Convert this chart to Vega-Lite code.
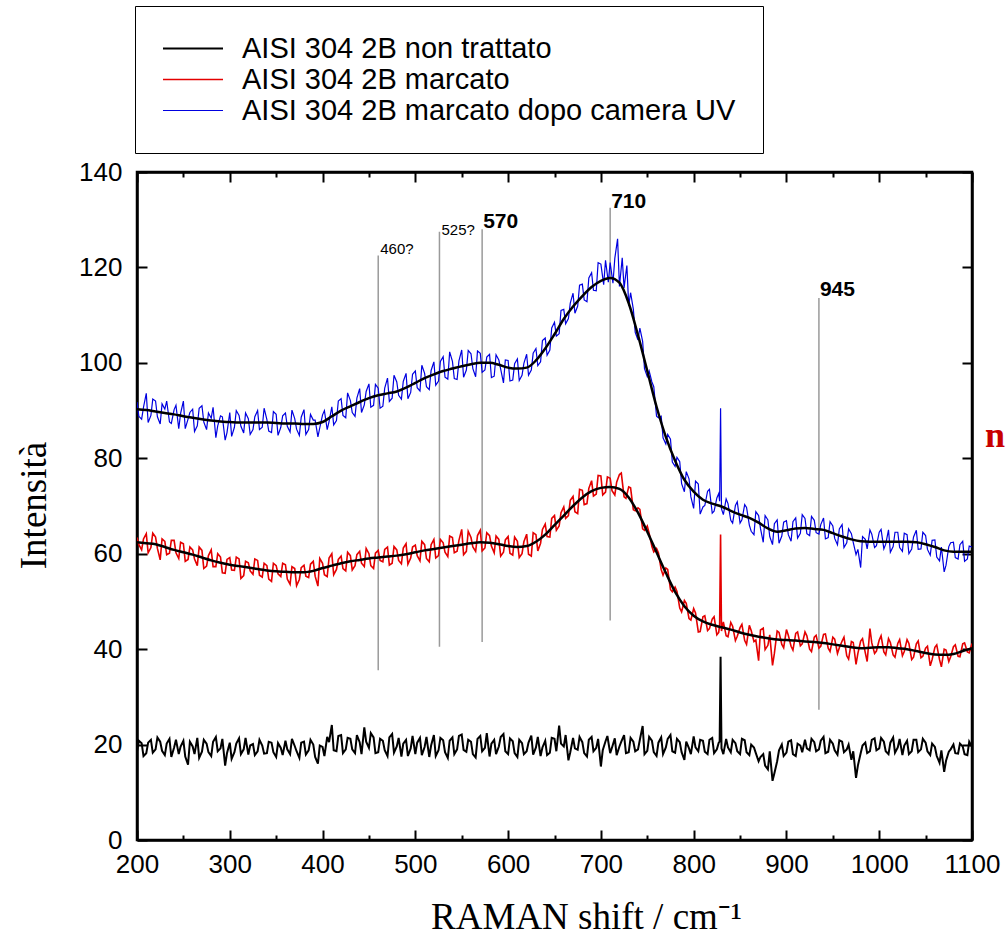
{
"$schema":"https://vega.github.io/schema/vega-lite/v6.json",
"width":835,"height":668,
"autosize":{"type":"none"},
"padding":{"left":137,"top":172,"right":36,"bottom":100},
"background":"white",
"config":{"view":{"stroke":"black","strokeWidth":2.5},"axis":{"grid":false,"domainColor":"black","domainWidth":2.5,"tickColor":"black","tickWidth":2,"labelFont":"Liberation Sans","labelFontSize":26,"labelColor":"black","titleColor":"black","titleFont":"Liberation Serif","titleFontWeight":"normal","titleFontSize":37}},
"datasets":{
"raw":[
{"s":"n","x":200,"y":18.6},{"s":"n","x":205,"y":20.3},{"s":"n","x":210,"y":18.2},{"s":"n","x":215,"y":21.0},{"s":"n","x":220,"y":19.0},{"s":"n","x":225,"y":20.6},{"s":"n","x":230,"y":17.8},{"s":"n","x":235,"y":21.2},{"s":"n","x":240,"y":19.4},{"s":"n","x":245,"y":18.0},{"s":"n","x":250,"y":20.8},{"s":"n","x":255,"y":15.8},{"s":"n","x":260,"y":19.6},{"s":"n","x":265,"y":21.4},{"s":"n","x":270,"y":18.5},{"s":"n","x":275,"y":20.2},{"s":"n","x":280,"y":17.6},{"s":"n","x":285,"y":21.6},{"s":"n","x":290,"y":19.2},{"s":"n","x":295,"y":15.6},{"s":"n","x":300,"y":20.4},{"s":"n","x":305,"y":18.4},{"s":"n","x":310,"y":21.3},{"s":"n","x":315,"y":19.0},{"s":"n","x":320,"y":17.9},{"s":"n","x":325,"y":20.1},{"s":"n","x":330,"y":18.6},{"s":"n","x":335,"y":19.8},{"s":"n","x":340,"y":18.2},{"s":"n","x":345,"y":20.4},{"s":"n","x":350,"y":17.4},{"s":"n","x":355,"y":19.3},{"s":"n","x":360,"y":20.8},{"s":"n","x":365,"y":18.0},{"s":"n","x":370,"y":19.7},{"s":"n","x":375,"y":17.2},{"s":"n","x":380,"y":20.6},{"s":"n","x":385,"y":18.8},{"s":"n","x":390,"y":20.0},{"s":"n","x":395,"y":16.0},{"s":"n","x":400,"y":19.5},{"s":"n","x":405,"y":21.6},{"s":"n","x":410,"y":24.1},{"s":"n","x":415,"y":18.6},{"s":"n","x":420,"y":22.0},{"s":"n","x":425,"y":19.0},{"s":"n","x":430,"y":21.2},{"s":"n","x":435,"y":18.2},{"s":"n","x":440,"y":20.5},{"s":"n","x":445,"y":23.6},{"s":"n","x":450,"y":19.3},{"s":"n","x":455,"y":21.5},{"s":"n","x":460,"y":18.4},{"s":"n","x":465,"y":20.8},{"s":"n","x":470,"y":17.6},{"s":"n","x":475,"y":22.2},{"s":"n","x":480,"y":19.6},{"s":"n","x":485,"y":17.5},{"s":"n","x":490,"y":21.0},{"s":"n","x":495,"y":19.2},{"s":"n","x":500,"y":18.0},{"s":"n","x":505,"y":21.4},{"s":"n","x":510,"y":19.5},{"s":"n","x":515,"y":17.4},{"s":"n","x":520,"y":22.0},{"s":"n","x":525,"y":18.8},{"s":"n","x":530,"y":20.9},{"s":"n","x":535,"y":17.2},{"s":"n","x":540,"y":21.5},{"s":"n","x":545,"y":19.0},{"s":"n","x":550,"y":22.1},{"s":"n","x":555,"y":18.5},{"s":"n","x":560,"y":20.6},{"s":"n","x":565,"y":17.3},{"s":"n","x":570,"y":21.8},{"s":"n","x":575,"y":19.3},{"s":"n","x":580,"y":17.5},{"s":"n","x":585,"y":21.0},{"s":"n","x":590,"y":19.6},{"s":"n","x":595,"y":22.2},{"s":"n","x":600,"y":18.0},{"s":"n","x":605,"y":20.7},{"s":"n","x":610,"y":17.4},{"s":"n","x":615,"y":20.3},{"s":"n","x":620,"y":18.6},{"s":"n","x":625,"y":21.9},{"s":"n","x":630,"y":19.4},{"s":"n","x":635,"y":17.6},{"s":"n","x":640,"y":20.8},{"s":"n","x":645,"y":18.3},{"s":"n","x":650,"y":21.2},{"s":"n","x":655,"y":24.0},{"s":"n","x":660,"y":19.6},{"s":"n","x":665,"y":16.7},{"s":"n","x":670,"y":21.4},{"s":"n","x":675,"y":18.9},{"s":"n","x":680,"y":20.5},{"s":"n","x":685,"y":17.5},{"s":"n","x":690,"y":21.6},{"s":"n","x":695,"y":19.3},{"s":"n","x":700,"y":15.4},{"s":"n","x":705,"y":20.7},{"s":"n","x":710,"y":18.2},{"s":"n","x":715,"y":21.3},{"s":"n","x":720,"y":19.6},{"s":"n","x":725,"y":22.0},{"s":"n","x":730,"y":18.4},{"s":"n","x":735,"y":20.6},{"s":"n","x":740,"y":19.0},{"s":"n","x":745,"y":23.9},{"s":"n","x":750,"y":18.7},{"s":"n","x":755,"y":20.8},{"s":"n","x":760,"y":17.6},{"s":"n","x":765,"y":21.5},{"s":"n","x":770,"y":19.4},{"s":"n","x":775,"y":22.0},{"s":"n","x":780,"y":18.3},{"s":"n","x":785,"y":20.5},{"s":"n","x":790,"y":16.8},{"s":"n","x":795,"y":19.2},{"s":"n","x":800,"y":21.7},{"s":"n","x":805,"y":18.6},{"s":"n","x":810,"y":20.8},{"s":"n","x":815,"y":18.0},{"s":"n","x":820,"y":21.4},{"s":"n","x":825,"y":19.0},{"s":"n","x":828,"y":20.6},{"s":"n","x":829,"y":38.4},{"s":"n","x":830,"y":19.2},{"s":"n","x":835,"y":21.2},{"s":"n","x":840,"y":18.4},{"s":"n","x":845,"y":20.3},{"s":"n","x":850,"y":18.0},{"s":"n","x":855,"y":20.9},{"s":"n","x":860,"y":17.8},{"s":"n","x":865,"y":19.4},{"s":"n","x":870,"y":16.5},{"s":"n","x":875,"y":18.0},{"s":"n","x":880,"y":14.8},{"s":"n","x":885,"y":12.4},{"s":"n","x":890,"y":16.5},{"s":"n","x":895,"y":20.0},{"s":"n","x":900,"y":18.3},{"s":"n","x":905,"y":20.9},{"s":"n","x":910,"y":17.6},{"s":"n","x":915,"y":19.8},{"s":"n","x":920,"y":21.0},{"s":"n","x":925,"y":18.8},{"s":"n","x":930,"y":20.5},{"s":"n","x":935,"y":19.0},{"s":"n","x":940,"y":21.6},{"s":"n","x":945,"y":18.5},{"s":"n","x":950,"y":20.2},{"s":"n","x":955,"y":17.9},{"s":"n","x":960,"y":20.6},{"s":"n","x":965,"y":19.0},{"s":"n","x":970,"y":16.8},{"s":"n","x":975,"y":13.0},{"s":"n","x":980,"y":18.2},{"s":"n","x":985,"y":20.4},{"s":"n","x":990,"y":18.6},{"s":"n","x":995,"y":21.3},{"s":"n","x":1000,"y":19.2},{"s":"n","x":1005,"y":20.6},{"s":"n","x":1010,"y":18.0},{"s":"n","x":1015,"y":21.5},{"s":"n","x":1020,"y":19.4},{"s":"n","x":1025,"y":17.8},{"s":"n","x":1030,"y":20.8},{"s":"n","x":1035,"y":18.6},{"s":"n","x":1040,"y":21.0},{"s":"n","x":1045,"y":19.0},{"s":"n","x":1050,"y":20.4},{"s":"n","x":1055,"y":17.8},{"s":"n","x":1060,"y":19.5},{"s":"n","x":1065,"y":16.2},{"s":"n","x":1070,"y":14.3},{"s":"n","x":1075,"y":18.5},{"s":"n","x":1080,"y":20.0},{"s":"n","x":1085,"y":18.1},{"s":"n","x":1090,"y":19.6},{"s":"n","x":1095,"y":17.8},{"s":"n","x":1100,"y":19.5},
{"s":"n","x":202,"y":20.8},{"s":"n","x":207,"y":17.6},{"s":"n","x":212,"y":20.4},{"s":"n","x":217,"y":18.3},{"s":"n","x":222,"y":21.5},{"s":"n","x":227,"y":18.7},{"s":"n","x":232,"y":20.2},{"s":"n","x":237,"y":17.4},{"s":"n","x":242,"y":21.0},{"s":"n","x":247,"y":19.6},{"s":"n","x":252,"y":17.5},{"s":"n","x":257,"y":20.6},{"s":"n","x":262,"y":18.0},{"s":"n","x":267,"y":17.2},{"s":"n","x":272,"y":21.0},{"s":"n","x":277,"y":18.4},{"s":"n","x":282,"y":20.6},{"s":"n","x":287,"y":18.6},{"s":"n","x":292,"y":21.2},{"s":"n","x":297,"y":18.2},{"s":"n","x":302,"y":17.0},{"s":"n","x":307,"y":20.2},{"s":"n","x":312,"y":18.0},{"s":"n","x":317,"y":21.4},{"s":"n","x":322,"y":19.8},{"s":"n","x":327,"y":17.8},{"s":"n","x":332,"y":21.0},{"s":"n","x":337,"y":18.1},{"s":"n","x":342,"y":20.6},{"s":"n","x":347,"y":18.4},{"s":"n","x":352,"y":20.3},{"s":"n","x":357,"y":17.8},{"s":"n","x":362,"y":19.0},{"s":"n","x":367,"y":21.2},{"s":"n","x":372,"y":18.6},{"s":"n","x":377,"y":20.4},{"s":"n","x":382,"y":17.9},{"s":"n","x":387,"y":21.0},{"s":"n","x":392,"y":17.4},{"s":"n","x":397,"y":19.8},{"s":"n","x":402,"y":17.6},{"s":"n","x":407,"y":20.5},{"s":"n","x":412,"y":18.8},{"s":"n","x":417,"y":21.8},{"s":"n","x":422,"y":18.2},{"s":"n","x":427,"y":21.4},{"s":"n","x":432,"y":19.0},{"s":"n","x":437,"y":22.0},{"s":"n","x":442,"y":18.0},{"s":"n","x":447,"y":20.6},{"s":"n","x":452,"y":22.4},{"s":"n","x":457,"y":18.2},{"s":"n","x":462,"y":21.2},{"s":"n","x":467,"y":18.8},{"s":"n","x":472,"y":21.5},{"s":"n","x":477,"y":18.3},{"s":"n","x":482,"y":21.4},{"s":"n","x":487,"y":20.2},{"s":"n","x":492,"y":17.6},{"s":"n","x":497,"y":21.8},{"s":"n","x":502,"y":20.4},{"s":"n","x":507,"y":17.8},{"s":"n","x":512,"y":21.6},{"s":"n","x":517,"y":19.8},{"s":"n","x":522,"y":17.6},{"s":"n","x":527,"y":21.4},{"s":"n","x":532,"y":18.4},{"s":"n","x":537,"y":20.8},{"s":"n","x":542,"y":18.0},{"s":"n","x":547,"y":21.8},{"s":"n","x":552,"y":18.9},{"s":"n","x":557,"y":21.0},{"s":"n","x":562,"y":18.0},{"s":"n","x":567,"y":21.2},{"s":"n","x":572,"y":18.6},{"s":"n","x":577,"y":22.4},{"s":"n","x":582,"y":20.2},{"s":"n","x":587,"y":18.0},{"s":"n","x":592,"y":21.6},{"s":"n","x":597,"y":18.6},{"s":"n","x":602,"y":21.3},{"s":"n","x":607,"y":18.2},{"s":"n","x":612,"y":21.0},{"s":"n","x":617,"y":18.0},{"s":"n","x":622,"y":20.4},{"s":"n","x":627,"y":17.9},{"s":"n","x":632,"y":21.6},{"s":"n","x":637,"y":19.4},{"s":"n","x":642,"y":17.8},{"s":"n","x":647,"y":21.4},{"s":"n","x":652,"y":18.6},{"s":"n","x":657,"y":20.2},{"s":"n","x":662,"y":22.0},{"s":"n","x":667,"y":18.4},{"s":"n","x":672,"y":19.2},{"s":"n","x":677,"y":21.6},{"s":"n","x":682,"y":18.2},{"s":"n","x":687,"y":21.0},{"s":"n","x":692,"y":18.6},{"s":"n","x":697,"y":21.2},{"s":"n","x":702,"y":18.8},{"s":"n","x":707,"y":21.8},{"s":"n","x":712,"y":19.4},{"s":"n","x":717,"y":17.8},{"s":"n","x":722,"y":20.6},{"s":"n","x":727,"y":18.2},{"s":"n","x":732,"y":21.4},{"s":"n","x":737,"y":18.6},{"s":"n","x":742,"y":21.0},{"s":"n","x":747,"y":18.0},{"s":"n","x":752,"y":21.6},{"s":"n","x":757,"y":18.4},{"s":"n","x":762,"y":20.4},{"s":"n","x":767,"y":18.0},{"s":"n","x":772,"y":21.2},{"s":"n","x":777,"y":18.6},{"s":"n","x":782,"y":21.2},{"s":"n","x":787,"y":18.4},{"s":"n","x":792,"y":20.6},{"s":"n","x":797,"y":18.0},{"s":"n","x":802,"y":19.4},{"s":"n","x":807,"y":21.0},{"s":"n","x":812,"y":18.5},{"s":"n","x":817,"y":21.0},{"s":"n","x":822,"y":18.2},{"s":"n","x":827,"y":20.4},{"s":"n","x":832,"y":18.0},{"s":"n","x":837,"y":19.4},{"s":"n","x":842,"y":21.0},{"s":"n","x":847,"y":18.6},{"s":"n","x":852,"y":21.2},{"s":"n","x":857,"y":18.4},{"s":"n","x":862,"y":20.0},{"s":"n","x":867,"y":18.2},{"s":"n","x":872,"y":17.4},{"s":"n","x":877,"y":15.6},{"s":"n","x":882,"y":18.6},{"s":"n","x":887,"y":14.0},{"s":"n","x":892,"y":18.8},{"s":"n","x":897,"y":17.6},{"s":"n","x":902,"y":20.6},{"s":"n","x":907,"y":18.0},{"s":"n","x":912,"y":20.2},{"s":"n","x":917,"y":18.4},{"s":"n","x":922,"y":19.2},{"s":"n","x":927,"y":21.2},{"s":"n","x":932,"y":18.6},{"s":"n","x":937,"y":20.8},{"s":"n","x":942,"y":18.2},{"s":"n","x":947,"y":21.0},{"s":"n","x":952,"y":18.8},{"s":"n","x":957,"y":20.9},{"s":"n","x":962,"y":18.4},{"s":"n","x":967,"y":20.0},{"s":"n","x":972,"y":18.6},{"s":"n","x":977,"y":15.6},{"s":"n","x":982,"y":19.8},{"s":"n","x":987,"y":18.2},{"s":"n","x":992,"y":21.0},{"s":"n","x":997,"y":18.8},{"s":"n","x":1002,"y":21.4},{"s":"n","x":1007,"y":18.6},{"s":"n","x":1012,"y":20.4},{"s":"n","x":1017,"y":18.3},{"s":"n","x":1022,"y":21.2},{"s":"n","x":1027,"y":19.8},{"s":"n","x":1032,"y":18.0},{"s":"n","x":1037,"y":21.0},{"s":"n","x":1042,"y":18.4},{"s":"n","x":1047,"y":21.2},{"s":"n","x":1052,"y":18.6},{"s":"n","x":1057,"y":20.2},{"s":"n","x":1062,"y":17.6},{"s":"n","x":1067,"y":18.8},{"s":"n","x":1072,"y":16.6},{"s":"n","x":1077,"y":19.0},{"s":"n","x":1082,"y":18.2},{"s":"n","x":1087,"y":20.2},{"s":"n","x":1092,"y":18.0},{"s":"n","x":1097,"y":20.6},
{"s":"m","x":200,"y":63.4},{"s":"m","x":205,"y":60.8},{"s":"m","x":210,"y":64.2},{"s":"m","x":215,"y":61.3},{"s":"m","x":220,"y":63.5},{"s":"m","x":225,"y":58.7},{"s":"m","x":230,"y":62.6},{"s":"m","x":235,"y":60.1},{"s":"m","x":240,"y":62.8},{"s":"m","x":245,"y":59.0},{"s":"m","x":250,"y":62.1},{"s":"m","x":255,"y":58.8},{"s":"m","x":260,"y":60.8},{"s":"m","x":265,"y":57.5},{"s":"m","x":270,"y":60.7},{"s":"m","x":275,"y":57.4},{"s":"m","x":280,"y":60.8},{"s":"m","x":285,"y":57.3},{"s":"m","x":290,"y":59.3},{"s":"m","x":295,"y":55.9},{"s":"m","x":300,"y":59.2},{"s":"m","x":305,"y":56.5},{"s":"m","x":310,"y":58.9},{"s":"m","x":315,"y":55.4},{"s":"m","x":320,"y":58.1},{"s":"m","x":325,"y":55.7},{"s":"m","x":330,"y":58.6},{"s":"m","x":335,"y":55.1},{"s":"m","x":340,"y":57.5},{"s":"m","x":345,"y":54.2},{"s":"m","x":350,"y":57.5},{"s":"m","x":355,"y":55.2},{"s":"m","x":360,"y":57.7},{"s":"m","x":365,"y":53.6},{"s":"m","x":370,"y":56.9},{"s":"m","x":375,"y":54.6},{"s":"m","x":380,"y":57.6},{"s":"m","x":385,"y":55.0},{"s":"m","x":390,"y":58.4},{"s":"m","x":395,"y":53.2},{"s":"m","x":400,"y":58.0},{"s":"m","x":405,"y":55.2},{"s":"m","x":410,"y":60.0},{"s":"m","x":415,"y":56.7},{"s":"m","x":420,"y":59.5},{"s":"m","x":425,"y":56.4},{"s":"m","x":430,"y":59.6},{"s":"m","x":435,"y":57.5},{"s":"m","x":440,"y":60.5},{"s":"m","x":445,"y":57.3},{"s":"m","x":450,"y":60.0},{"s":"m","x":455,"y":56.9},{"s":"m","x":460,"y":60.7},{"s":"m","x":465,"y":58.3},{"s":"m","x":470,"y":61.4},{"s":"m","x":475,"y":58.0},{"s":"m","x":480,"y":60.8},{"s":"m","x":485,"y":57.9},{"s":"m","x":490,"y":62.1},{"s":"m","x":495,"y":59.1},{"s":"m","x":500,"y":61.8},{"s":"m","x":505,"y":58.5},{"s":"m","x":510,"y":61.9},{"s":"m","x":515,"y":58.3},{"s":"m","x":520,"y":63.0},{"s":"m","x":525,"y":59.6},{"s":"m","x":530,"y":62.3},{"s":"m","x":535,"y":59.4},{"s":"m","x":540,"y":63.4},{"s":"m","x":545,"y":60.5},{"s":"m","x":550,"y":65.1},{"s":"m","x":555,"y":60.5},{"s":"m","x":560,"y":63.4},{"s":"m","x":565,"y":60.5},{"s":"m","x":570,"y":64.9},{"s":"m","x":575,"y":61.2},{"s":"m","x":580,"y":63.8},{"s":"m","x":585,"y":60.2},{"s":"m","x":590,"y":63.0},{"s":"m","x":595,"y":60.3},{"s":"m","x":600,"y":63.6},{"s":"m","x":605,"y":59.7},{"s":"m","x":610,"y":62.6},{"s":"m","x":615,"y":60.0},{"s":"m","x":620,"y":64.1},{"s":"m","x":625,"y":59.5},{"s":"m","x":630,"y":64.0},{"s":"m","x":635,"y":62.2},{"s":"m","x":640,"y":66.2},{"s":"m","x":645,"y":63.5},{"s":"m","x":650,"y":68.0},{"s":"m","x":655,"y":65.8},{"s":"m","x":660,"y":69.8},{"s":"m","x":665,"y":68.0},{"s":"m","x":670,"y":72.0},{"s":"m","x":675,"y":68.4},{"s":"m","x":680,"y":73.3},{"s":"m","x":685,"y":70.5},{"s":"m","x":690,"y":75.3},{"s":"m","x":695,"y":72.5},{"s":"m","x":700,"y":76.3},{"s":"m","x":705,"y":72.9},{"s":"m","x":710,"y":75.8},{"s":"m","x":715,"y":72.3},{"s":"m","x":720,"y":76.6},{"s":"m","x":725,"y":71.9},{"s":"m","x":730,"y":74.0},{"s":"m","x":735,"y":69.2},{"s":"m","x":740,"y":69.6},{"s":"m","x":745,"y":65.2},{"s":"m","x":750,"y":65.8},{"s":"m","x":755,"y":61.5},{"s":"m","x":760,"y":61.1},{"s":"m","x":765,"y":56.7},{"s":"m","x":770,"y":57.0},{"s":"m","x":775,"y":52.5},{"s":"m","x":780,"y":53.0},{"s":"m","x":785,"y":48.6},{"s":"m","x":790,"y":50.2},{"s":"m","x":795,"y":46.4},{"s":"m","x":800,"y":48.5},{"s":"m","x":805,"y":43.6},{"s":"m","x":810,"y":46.8},{"s":"m","x":815,"y":43.9},{"s":"m","x":820,"y":46.3},{"s":"m","x":825,"y":43.0},{"s":"m","x":828,"y":45.2},{"s":"m","x":829,"y":64.0},{"s":"m","x":830,"y":43.8},{"s":"m","x":835,"y":42.8},{"s":"m","x":840,"y":45.6},{"s":"m","x":845,"y":41.8},{"s":"m","x":850,"y":44.5},{"s":"m","x":855,"y":41.8},{"s":"m","x":860,"y":45.0},{"s":"m","x":865,"y":41.6},{"s":"m","x":870,"y":37.6},{"s":"m","x":875,"y":44.4},{"s":"m","x":880,"y":40.8},{"s":"m","x":885,"y":36.6},{"s":"m","x":890,"y":43.8},{"s":"m","x":895,"y":41.0},{"s":"m","x":900,"y":44.1},{"s":"m","x":905,"y":40.6},{"s":"m","x":910,"y":43.3},{"s":"m","x":915,"y":40.7},{"s":"m","x":920,"y":43.6},{"s":"m","x":925,"y":40.0},{"s":"m","x":930,"y":42.5},{"s":"m","x":935,"y":40.2},{"s":"m","x":940,"y":43.1},{"s":"m","x":945,"y":40.2},{"s":"m","x":950,"y":42.5},{"s":"m","x":955,"y":39.1},{"s":"m","x":960,"y":41.7},{"s":"m","x":965,"y":38.6},{"s":"m","x":970,"y":41.6},{"s":"m","x":975,"y":36.8},{"s":"m","x":980,"y":41.7},{"s":"m","x":985,"y":39.2},{"s":"m","x":990,"y":44.3},{"s":"m","x":995,"y":39.1},{"s":"m","x":1000,"y":41.9},{"s":"m","x":1005,"y":39.4},{"s":"m","x":1010,"y":42.2},{"s":"m","x":1015,"y":38.8},{"s":"m","x":1020,"y":41.2},{"s":"m","x":1025,"y":38.6},{"s":"m","x":1030,"y":42.0},{"s":"m","x":1035,"y":37.8},{"s":"m","x":1040,"y":41.1},{"s":"m","x":1045,"y":38.2},{"s":"m","x":1050,"y":40.2},{"s":"m","x":1055,"y":36.5},{"s":"m","x":1060,"y":40.4},{"s":"m","x":1065,"y":37.8},{"s":"m","x":1070,"y":40.0},{"s":"m","x":1075,"y":37.4},{"s":"m","x":1080,"y":40.5},{"s":"m","x":1085,"y":38.5},{"s":"m","x":1090,"y":41.1},{"s":"m","x":1095,"y":39.4},{"s":"m","x":1100,"y":41.2},
{"s":"m","x":202,"y":61.9},{"s":"m","x":207,"y":63.1},{"s":"m","x":212,"y":60.2},{"s":"m","x":217,"y":64.3},{"s":"m","x":222,"y":61.1},{"s":"m","x":227,"y":63.1},{"s":"m","x":232,"y":59.8},{"s":"m","x":237,"y":62.8},{"s":"m","x":242,"y":60.2},{"s":"m","x":247,"y":62.4},{"s":"m","x":252,"y":58.4},{"s":"m","x":257,"y":61.4},{"s":"m","x":262,"y":58.9},{"s":"m","x":267,"y":61.4},{"s":"m","x":272,"y":56.9},{"s":"m","x":277,"y":59.6},{"s":"m","x":282,"y":57.3},{"s":"m","x":287,"y":60.0},{"s":"m","x":292,"y":56.0},{"s":"m","x":297,"y":58.8},{"s":"m","x":302,"y":56.6},{"s":"m","x":307,"y":59.3},{"s":"m","x":312,"y":54.8},{"s":"m","x":317,"y":58.4},{"s":"m","x":322,"y":56.4},{"s":"m","x":327,"y":58.9},{"s":"m","x":332,"y":55.5},{"s":"m","x":337,"y":58.0},{"s":"m","x":342,"y":54.7},{"s":"m","x":347,"y":58.0},{"s":"m","x":352,"y":55.8},{"s":"m","x":357,"y":58.0},{"s":"m","x":362,"y":54.7},{"s":"m","x":367,"y":57.3},{"s":"m","x":372,"y":53.3},{"s":"m","x":377,"y":57.1},{"s":"m","x":382,"y":55.3},{"s":"m","x":387,"y":57.8},{"s":"m","x":392,"y":55.3},{"s":"m","x":397,"y":59.0},{"s":"m","x":402,"y":55.6},{"s":"m","x":407,"y":59.1},{"s":"m","x":412,"y":55.6},{"s":"m","x":417,"y":58.8},{"s":"m","x":422,"y":56.9},{"s":"m","x":427,"y":60.3},{"s":"m","x":432,"y":56.6},{"s":"m","x":437,"y":59.8},{"s":"m","x":442,"y":58.0},{"s":"m","x":447,"y":61.1},{"s":"m","x":452,"y":57.5},{"s":"m","x":457,"y":60.1},{"s":"m","x":462,"y":58.6},{"s":"m","x":467,"y":60.9},{"s":"m","x":472,"y":57.6},{"s":"m","x":477,"y":61.5},{"s":"m","x":482,"y":58.6},{"s":"m","x":487,"y":61.2},{"s":"m","x":492,"y":57.8},{"s":"m","x":497,"y":61.4},{"s":"m","x":502,"y":59.6},{"s":"m","x":507,"y":62.6},{"s":"m","x":512,"y":59.0},{"s":"m","x":517,"y":61.9},{"s":"m","x":522,"y":59.1},{"s":"m","x":527,"y":63.0},{"s":"m","x":532,"y":60.3},{"s":"m","x":537,"y":63.7},{"s":"m","x":542,"y":60.2},{"s":"m","x":547,"y":62.8},{"s":"m","x":552,"y":59.8},{"s":"m","x":557,"y":64.7},{"s":"m","x":562,"y":61.4},{"s":"m","x":567,"y":63.8},{"s":"m","x":572,"y":60.6},{"s":"m","x":577,"y":64.4},{"s":"m","x":582,"y":61.6},{"s":"m","x":587,"y":63.7},{"s":"m","x":592,"y":59.5},{"s":"m","x":597,"y":62.9},{"s":"m","x":602,"y":60.1},{"s":"m","x":607,"y":63.5},{"s":"m","x":612,"y":59.2},{"s":"m","x":617,"y":62.5},{"s":"m","x":622,"y":59.9},{"s":"m","x":627,"y":64.4},{"s":"m","x":632,"y":60.6},{"s":"m","x":637,"y":65.1},{"s":"m","x":642,"y":63.6},{"s":"m","x":647,"y":67.4},{"s":"m","x":652,"y":64.9},{"s":"m","x":657,"y":68.6},{"s":"m","x":662,"y":67.4},{"s":"m","x":667,"y":71.2},{"s":"m","x":672,"y":68.8},{"s":"m","x":677,"y":73.5},{"s":"m","x":682,"y":70.3},{"s":"m","x":687,"y":73.7},{"s":"m","x":692,"y":72.1},{"s":"m","x":697,"y":76.4},{"s":"m","x":702,"y":72.3},{"s":"m","x":707,"y":76.1},{"s":"m","x":712,"y":73.2},{"s":"m","x":717,"y":75.0},{"s":"m","x":722,"y":76.9},{"s":"m","x":727,"y":71.6},{"s":"m","x":732,"y":73.8},{"s":"m","x":737,"y":69.0},{"s":"m","x":742,"y":69.3},{"s":"m","x":747,"y":64.9},{"s":"m","x":752,"y":64.3},{"s":"m","x":757,"y":60.4},{"s":"m","x":762,"y":60.2},{"s":"m","x":767,"y":55.5},{"s":"m","x":772,"y":56.7},{"s":"m","x":777,"y":52.0},{"s":"m","x":782,"y":52.1},{"s":"m","x":787,"y":47.8},{"s":"m","x":792,"y":49.6},{"s":"m","x":797,"y":46.1},{"s":"m","x":802,"y":47.6},{"s":"m","x":807,"y":43.7},{"s":"m","x":812,"y":47.0},{"s":"m","x":817,"y":44.3},{"s":"m","x":822,"y":46.8},{"s":"m","x":827,"y":43.5},{"s":"m","x":832,"y":45.7},{"s":"m","x":837,"y":42.6},{"s":"m","x":842,"y":44.8},{"s":"m","x":847,"y":42.7},{"s":"m","x":852,"y":45.2},{"s":"m","x":857,"y":41.0},{"s":"m","x":862,"y":43.9},{"s":"m","x":867,"y":41.9},{"s":"m","x":872,"y":44.0},{"s":"m","x":877,"y":39.9},{"s":"m","x":882,"y":43.0},{"s":"m","x":887,"y":39.1},{"s":"m","x":892,"y":43.5},{"s":"m","x":897,"y":40.3},{"s":"m","x":902,"y":42.9},{"s":"m","x":907,"y":39.8},{"s":"m","x":912,"y":43.6},{"s":"m","x":917,"y":41.1},{"s":"m","x":922,"y":42.8},{"s":"m","x":927,"y":39.5},{"s":"m","x":932,"y":42.9},{"s":"m","x":937,"y":40.6},{"s":"m","x":942,"y":43.2},{"s":"m","x":947,"y":39.5},{"s":"m","x":952,"y":42.1},{"s":"m","x":957,"y":40.3},{"s":"m","x":962,"y":42.5},{"s":"m","x":967,"y":37.9},{"s":"m","x":972,"y":41.4},{"s":"m","x":977,"y":39.1},{"s":"m","x":982,"y":42.2},{"s":"m","x":987,"y":37.4},{"s":"m","x":992,"y":41.3},{"s":"m","x":997,"y":39.6},{"s":"m","x":1002,"y":42.8},{"s":"m","x":1007,"y":38.8},{"s":"m","x":1012,"y":41.4},{"s":"m","x":1017,"y":38.3},{"s":"m","x":1022,"y":42.0},{"s":"m","x":1027,"y":39.5},{"s":"m","x":1032,"y":41.2},{"s":"m","x":1037,"y":38.3},{"s":"m","x":1042,"y":41.7},{"s":"m","x":1047,"y":38.5},{"s":"m","x":1052,"y":40.6},{"s":"m","x":1057,"y":37.8},{"s":"m","x":1062,"y":40.9},{"s":"m","x":1067,"y":36.3},{"s":"m","x":1072,"y":39.8},{"s":"m","x":1077,"y":38.4},{"s":"m","x":1082,"y":40.9},{"s":"m","x":1087,"y":38.4},{"s":"m","x":1092,"y":41.3},{"s":"m","x":1097,"y":39.2},
{"s":"u","x":200,"y":91.8},{"s":"u","x":205,"y":88.2},{"s":"u","x":210,"y":93.6},{"s":"u","x":215,"y":89.0},{"s":"u","x":220,"y":92.0},{"s":"u","x":225,"y":87.2},{"s":"u","x":230,"y":90.3},{"s":"u","x":235,"y":87.6},{"s":"u","x":240,"y":90.2},{"s":"u","x":245,"y":86.2},{"s":"u","x":250,"y":92.0},{"s":"u","x":255,"y":88.2},{"s":"u","x":260,"y":90.3},{"s":"u","x":265,"y":86.8},{"s":"u","x":270,"y":91.0},{"s":"u","x":275,"y":86.0},{"s":"u","x":280,"y":88.4},{"s":"u","x":285,"y":84.3},{"s":"u","x":290,"y":88.9},{"s":"u","x":295,"y":83.8},{"s":"u","x":300,"y":89.6},{"s":"u","x":305,"y":86.5},{"s":"u","x":310,"y":89.0},{"s":"u","x":315,"y":85.3},{"s":"u","x":320,"y":88.3},{"s":"u","x":325,"y":86.0},{"s":"u","x":330,"y":90.0},{"s":"u","x":335,"y":86.5},{"s":"u","x":340,"y":88.1},{"s":"u","x":345,"y":85.4},{"s":"u","x":350,"y":89.2},{"s":"u","x":355,"y":86.5},{"s":"u","x":360,"y":89.5},{"s":"u","x":365,"y":85.5},{"s":"u","x":370,"y":88.3},{"s":"u","x":375,"y":84.8},{"s":"u","x":380,"y":90.2},{"s":"u","x":385,"y":86.0},{"s":"u","x":390,"y":88.0},{"s":"u","x":395,"y":84.5},{"s":"u","x":400,"y":89.1},{"s":"u","x":405,"y":86.0},{"s":"u","x":410,"y":90.8},{"s":"u","x":415,"y":87.9},{"s":"u","x":420,"y":92.5},{"s":"u","x":425,"y":88.5},{"s":"u","x":430,"y":92.1},{"s":"u","x":435,"y":88.8},{"s":"u","x":440,"y":94.6},{"s":"u","x":445,"y":91.2},{"s":"u","x":450,"y":95.6},{"s":"u","x":455,"y":91.1},{"s":"u","x":460,"y":94.7},{"s":"u","x":465,"y":90.9},{"s":"u","x":470,"y":96.8},{"s":"u","x":475,"y":92.6},{"s":"u","x":480,"y":96.0},{"s":"u","x":485,"y":92.4},{"s":"u","x":490,"y":97.8},{"s":"u","x":495,"y":93.8},{"s":"u","x":500,"y":98.3},{"s":"u","x":505,"y":94.1},{"s":"u","x":510,"y":97.8},{"s":"u","x":515,"y":94.4},{"s":"u","x":520,"y":100.2},{"s":"u","x":525,"y":96.2},{"s":"u","x":530,"y":101.3},{"s":"u","x":535,"y":96.6},{"s":"u","x":540,"y":100.3},{"s":"u","x":545,"y":96.5},{"s":"u","x":550,"y":102.7},{"s":"u","x":555,"y":98.5},{"s":"u","x":560,"y":101.9},{"s":"u","x":565,"y":97.1},{"s":"u","x":570,"y":102.0},{"s":"u","x":575,"y":98.5},{"s":"u","x":580,"y":101.8},{"s":"u","x":585,"y":97.2},{"s":"u","x":590,"y":100.6},{"s":"u","x":595,"y":95.8},{"s":"u","x":600,"y":100.5},{"s":"u","x":605,"y":96.4},{"s":"u","x":610,"y":100.8},{"s":"u","x":615,"y":97.4},{"s":"u","x":620,"y":101.8},{"s":"u","x":625,"y":98.5},{"s":"u","x":630,"y":103.0},{"s":"u","x":635,"y":100.2},{"s":"u","x":640,"y":105.2},{"s":"u","x":645,"y":102.7},{"s":"u","x":650,"y":108.5},{"s":"u","x":655,"y":106.1},{"s":"u","x":660,"y":111.2},{"s":"u","x":665,"y":109.3},{"s":"u","x":670,"y":114.6},{"s":"u","x":675,"y":111.9},{"s":"u","x":680,"y":116.5},{"s":"u","x":685,"y":112.8},{"s":"u","x":690,"y":118.9},{"s":"u","x":695,"y":115.1},{"s":"u","x":700,"y":120.7},{"s":"u","x":703,"y":116.4},{"s":"u","x":705,"y":121.5},{"s":"u","x":708,"y":116.9},{"s":"u","x":710,"y":121.0},{"s":"u","x":713,"y":116.7},{"s":"u","x":715,"y":121.9},{"s":"u","x":718,"y":126.0},{"s":"u","x":720,"y":116.0},{"s":"u","x":723,"y":122.0},{"s":"u","x":725,"y":115.7},{"s":"u","x":728,"y":120.4},{"s":"u","x":730,"y":112.0},{"s":"u","x":735,"y":111.2},{"s":"u","x":740,"y":104.8},{"s":"u","x":745,"y":104.5},{"s":"u","x":750,"y":97.1},{"s":"u","x":755,"y":96.0},{"s":"u","x":760,"y":88.8},{"s":"u","x":765,"y":88.8},{"s":"u","x":770,"y":83.0},{"s":"u","x":775,"y":84.0},{"s":"u","x":780,"y":78.3},{"s":"u","x":785,"y":79.3},{"s":"u","x":790,"y":73.0},{"s":"u","x":795,"y":75.7},{"s":"u","x":800,"y":69.5},{"s":"u","x":805,"y":74.6},{"s":"u","x":810,"y":69.8},{"s":"u","x":815,"y":73.1},{"s":"u","x":820,"y":68.5},{"s":"u","x":825,"y":71.7},{"s":"u","x":828,"y":71.0},{"s":"u","x":829,"y":90.5},{"s":"u","x":830,"y":69.4},{"s":"u","x":835,"y":71.5},{"s":"u","x":840,"y":67.0},{"s":"u","x":845,"y":70.1},{"s":"u","x":850,"y":66.4},{"s":"u","x":855,"y":70.3},{"s":"u","x":860,"y":66.0},{"s":"u","x":865,"y":64.0},{"s":"u","x":870,"y":68.0},{"s":"u","x":875,"y":62.4},{"s":"u","x":880,"y":67.1},{"s":"u","x":885,"y":61.9},{"s":"u","x":890,"y":67.1},{"s":"u","x":895,"y":63.7},{"s":"u","x":900,"y":66.9},{"s":"u","x":905,"y":62.6},{"s":"u","x":910,"y":67.5},{"s":"u","x":915,"y":64.3},{"s":"u","x":920,"y":67.4},{"s":"u","x":925,"y":63.8},{"s":"u","x":930,"y":67.0},{"s":"u","x":935,"y":64.1},{"s":"u","x":940,"y":67.5},{"s":"u","x":945,"y":63.4},{"s":"u","x":950,"y":65.8},{"s":"u","x":955,"y":61.9},{"s":"u","x":960,"y":66.1},{"s":"u","x":965,"y":62.3},{"s":"u","x":970,"y":64.2},{"s":"u","x":975,"y":59.8},{"s":"u","x":980,"y":57.1},{"s":"u","x":985,"y":63.0},{"s":"u","x":990,"y":65.0},{"s":"u","x":995,"y":61.3},{"s":"u","x":1000,"y":64.5},{"s":"u","x":1005,"y":61.0},{"s":"u","x":1010,"y":65.0},{"s":"u","x":1015,"y":61.5},{"s":"u","x":1020,"y":64.5},{"s":"u","x":1025,"y":60.5},{"s":"u","x":1030,"y":64.0},{"s":"u","x":1035,"y":61.0},{"s":"u","x":1040,"y":64.9},{"s":"u","x":1045,"y":61.0},{"s":"u","x":1050,"y":63.8},{"s":"u","x":1055,"y":59.7},{"s":"u","x":1060,"y":62.9},{"s":"u","x":1065,"y":58.5},{"s":"u","x":1070,"y":56.2},{"s":"u","x":1075,"y":61.5},{"s":"u","x":1080,"y":62.4},{"s":"u","x":1085,"y":58.9},{"s":"u","x":1090,"y":62.6},{"s":"u","x":1095,"y":58.9},{"s":"u","x":1100,"y":61.4},
{"s":"u","x":202,"y":88.8},{"s":"u","x":207,"y":90.7},{"s":"u","x":212,"y":87.5},{"s":"u","x":217,"y":92.4},{"s":"u","x":222,"y":88.7},{"s":"u","x":227,"y":91.4},{"s":"u","x":232,"y":92.0},{"s":"u","x":237,"y":87.3},{"s":"u","x":242,"y":91.1},{"s":"u","x":247,"y":89.4},{"s":"u","x":252,"y":86.2},{"s":"u","x":257,"y":89.6},{"s":"u","x":262,"y":85.6},{"s":"u","x":267,"y":90.5},{"s":"u","x":272,"y":87.6},{"s":"u","x":277,"y":89.5},{"s":"u","x":282,"y":90.7},{"s":"u","x":287,"y":86.8},{"s":"u","x":292,"y":88.7},{"s":"u","x":297,"y":85.4},{"s":"u","x":302,"y":84.6},{"s":"u","x":307,"y":90.0},{"s":"u","x":312,"y":86.7},{"s":"u","x":317,"y":89.5},{"s":"u","x":322,"y":85.0},{"s":"u","x":327,"y":88.7},{"s":"u","x":332,"y":86.0},{"s":"u","x":337,"y":90.5},{"s":"u","x":342,"y":85.7},{"s":"u","x":347,"y":89.8},{"s":"u","x":352,"y":84.8},{"s":"u","x":357,"y":88.9},{"s":"u","x":362,"y":86.7},{"s":"u","x":367,"y":90.1},{"s":"u","x":372,"y":86.1},{"s":"u","x":377,"y":88.6},{"s":"u","x":382,"y":85.0},{"s":"u","x":387,"y":89.2},{"s":"u","x":392,"y":88.0},{"s":"u","x":397,"y":86.4},{"s":"u","x":402,"y":90.0},{"s":"u","x":407,"y":87.7},{"s":"u","x":412,"y":87.0},{"s":"u","x":417,"y":92.0},{"s":"u","x":422,"y":89.0},{"s":"u","x":427,"y":93.7},{"s":"u","x":432,"y":89.6},{"s":"u","x":437,"y":92.6},{"s":"u","x":442,"y":89.6},{"s":"u","x":447,"y":94.0},{"s":"u","x":452,"y":90.7},{"s":"u","x":457,"y":95.5},{"s":"u","x":462,"y":90.5},{"s":"u","x":467,"y":94.7},{"s":"u","x":472,"y":91.9},{"s":"u","x":477,"y":97.4},{"s":"u","x":482,"y":93.2},{"s":"u","x":487,"y":96.1},{"s":"u","x":492,"y":92.5},{"s":"u","x":497,"y":97.6},{"s":"u","x":502,"y":94.8},{"s":"u","x":507,"y":99.5},{"s":"u","x":512,"y":95.0},{"s":"u","x":517,"y":98.4},{"s":"u","x":522,"y":95.3},{"s":"u","x":527,"y":100.3},{"s":"u","x":532,"y":97.0},{"s":"u","x":537,"y":102.3},{"s":"u","x":542,"y":96.7},{"s":"u","x":547,"y":100.4},{"s":"u","x":552,"y":97.0},{"s":"u","x":557,"y":102.6},{"s":"u","x":562,"y":98.8},{"s":"u","x":567,"y":102.5},{"s":"u","x":572,"y":98.0},{"s":"u","x":577,"y":101.2},{"s":"u","x":582,"y":96.9},{"s":"u","x":587,"y":101.7},{"s":"u","x":592,"y":98.7},{"s":"u","x":597,"y":100.6},{"s":"u","x":602,"y":96.2},{"s":"u","x":607,"y":99.8},{"s":"u","x":612,"y":96.3},{"s":"u","x":617,"y":99.9},{"s":"u","x":622,"y":97.4},{"s":"u","x":627,"y":102.0},{"s":"u","x":632,"y":99.4},{"s":"u","x":637,"y":104.7},{"s":"u","x":642,"y":101.6},{"s":"u","x":647,"y":107.3},{"s":"u","x":652,"y":105.6},{"s":"u","x":657,"y":111.0},{"s":"u","x":662,"y":108.2},{"s":"u","x":667,"y":112.5},{"s":"u","x":672,"y":110.4},{"s":"u","x":677,"y":116.3},{"s":"u","x":682,"y":113.2},{"s":"u","x":687,"y":117.8},{"s":"u","x":692,"y":115.2},{"s":"u","x":697,"y":121.0},{"s":"u","x":732,"y":114.7},{"s":"u","x":737,"y":106.4},{"s":"u","x":742,"y":107.3},{"s":"u","x":747,"y":98.8},{"s":"u","x":752,"y":98.3},{"s":"u","x":757,"y":95.0},{"s":"u","x":762,"y":88.5},{"s":"u","x":767,"y":84.3},{"s":"u","x":772,"y":85.0},{"s":"u","x":777,"y":79.2},{"s":"u","x":782,"y":80.2},{"s":"u","x":787,"y":74.7},{"s":"u","x":792,"y":77.2},{"s":"u","x":797,"y":71.9},{"s":"u","x":802,"y":75.2},{"s":"u","x":807,"y":68.3},{"s":"u","x":812,"y":70.1},{"s":"u","x":817,"y":73.5},{"s":"u","x":822,"y":68.9},{"s":"u","x":827,"y":72.6},{"s":"u","x":832,"y":68.2},{"s":"u","x":837,"y":70.5},{"s":"u","x":842,"y":66.4},{"s":"u","x":847,"y":70.9},{"s":"u","x":852,"y":67.1},{"s":"u","x":857,"y":69.7},{"s":"u","x":862,"y":64.7},{"s":"u","x":867,"y":68.8},{"s":"u","x":872,"y":65.3},{"s":"u","x":877,"y":68.0},{"s":"u","x":882,"y":63.6},{"s":"u","x":887,"y":66.3},{"s":"u","x":892,"y":62.2},{"s":"u","x":897,"y":66.6},{"s":"u","x":902,"y":64.0},{"s":"u","x":907,"y":66.7},{"s":"u","x":912,"y":63.3},{"s":"u","x":917,"y":68.2},{"s":"u","x":922,"y":64.2},{"s":"u","x":927,"y":67.8},{"s":"u","x":932,"y":64.4},{"s":"u","x":937,"y":66.1},{"s":"u","x":942,"y":63.1},{"s":"u","x":947,"y":66.7},{"s":"u","x":952,"y":63.2},{"s":"u","x":957,"y":65.2},{"s":"u","x":962,"y":61.3},{"s":"u","x":967,"y":65.2},{"s":"u","x":972,"y":62.4},{"s":"u","x":977,"y":60.9},{"s":"u","x":982,"y":63.6},{"s":"u","x":987,"y":61.0},{"s":"u","x":992,"y":64.1},{"s":"u","x":997,"y":61.7},{"s":"u","x":1002,"y":65.1},{"s":"u","x":1007,"y":62.0},{"s":"u","x":1012,"y":60.3},{"s":"u","x":1017,"y":64.5},{"s":"u","x":1022,"y":61.3},{"s":"u","x":1027,"y":64.3},{"s":"u","x":1032,"y":60.0},{"s":"u","x":1037,"y":63.5},{"s":"u","x":1042,"y":60.9},{"s":"u","x":1047,"y":64.5},{"s":"u","x":1052,"y":60.9},{"s":"u","x":1057,"y":62.8},{"s":"u","x":1062,"y":59.3},{"s":"u","x":1067,"y":61.4},{"s":"u","x":1072,"y":57.6},{"s":"u","x":1077,"y":62.3},{"s":"u","x":1082,"y":59.2},{"s":"u","x":1087,"y":61.9},{"s":"u","x":1092,"y":58.4},{"s":"u","x":1097,"y":61.6}
],
"fit":[
{"s":"m","x":200,"y":62.4},{"s":"m","x":210,"y":62.2},{"s":"m","x":220,"y":62.0},{"s":"m","x":230,"y":61.4},{"s":"m","x":240,"y":60.8},{"s":"m","x":250,"y":60.3},{"s":"m","x":260,"y":59.8},{"s":"m","x":270,"y":59.2},{"s":"m","x":280,"y":58.6},{"s":"m","x":290,"y":58.1},{"s":"m","x":300,"y":57.7},{"s":"m","x":310,"y":57.4},{"s":"m","x":320,"y":57.1},{"s":"m","x":330,"y":56.8},{"s":"m","x":340,"y":56.5},{"s":"m","x":350,"y":56.3},{"s":"m","x":360,"y":56.2},{"s":"m","x":370,"y":56.1},{"s":"m","x":380,"y":56.1},{"s":"m","x":390,"y":56.4},{"s":"m","x":400,"y":57.0},{"s":"m","x":410,"y":57.5},{"s":"m","x":420,"y":58.0},{"s":"m","x":430,"y":58.4},{"s":"m","x":440,"y":58.7},{"s":"m","x":450,"y":59.0},{"s":"m","x":460,"y":59.2},{"s":"m","x":470,"y":59.4},{"s":"m","x":480,"y":59.6},{"s":"m","x":490,"y":59.9},{"s":"m","x":500,"y":60.3},{"s":"m","x":510,"y":60.7},{"s":"m","x":520,"y":61.0},{"s":"m","x":530,"y":61.3},{"s":"m","x":540,"y":61.6},{"s":"m","x":550,"y":61.9},{"s":"m","x":560,"y":62.2},{"s":"m","x":570,"y":62.4},{"s":"m","x":580,"y":62.3},{"s":"m","x":590,"y":62.0},{"s":"m","x":600,"y":61.6},{"s":"m","x":610,"y":61.4},{"s":"m","x":620,"y":61.6},{"s":"m","x":630,"y":62.5},{"s":"m","x":640,"y":64.0},{"s":"m","x":650,"y":66.0},{"s":"m","x":660,"y":68.0},{"s":"m","x":670,"y":70.0},{"s":"m","x":680,"y":71.8},{"s":"m","x":690,"y":73.1},{"s":"m","x":700,"y":73.8},{"s":"m","x":710,"y":74.0},{"s":"m","x":720,"y":73.6},{"s":"m","x":730,"y":71.8},{"s":"m","x":740,"y":68.6},{"s":"m","x":750,"y":64.6},{"s":"m","x":760,"y":60.3},{"s":"m","x":770,"y":56.0},{"s":"m","x":780,"y":52.0},{"s":"m","x":790,"y":49.0},{"s":"m","x":800,"y":47.0},{"s":"m","x":810,"y":45.8},{"s":"m","x":820,"y":45.1},{"s":"m","x":830,"y":44.6},{"s":"m","x":840,"y":44.1},{"s":"m","x":850,"y":43.5},{"s":"m","x":860,"y":43.0},{"s":"m","x":870,"y":42.6},{"s":"m","x":880,"y":42.3},{"s":"m","x":890,"y":42.0},{"s":"m","x":900,"y":41.9},{"s":"m","x":910,"y":41.8},{"s":"m","x":920,"y":41.6},{"s":"m","x":930,"y":41.5},{"s":"m","x":940,"y":41.3},{"s":"m","x":950,"y":41.0},{"s":"m","x":960,"y":40.7},{"s":"m","x":970,"y":40.4},{"s":"m","x":980,"y":40.2},{"s":"m","x":990,"y":40.3},{"s":"m","x":1000,"y":40.4},{"s":"m","x":1010,"y":40.4},{"s":"m","x":1020,"y":40.2},{"s":"m","x":1030,"y":40.0},{"s":"m","x":1040,"y":39.6},{"s":"m","x":1050,"y":39.2},{"s":"m","x":1060,"y":38.9},{"s":"m","x":1070,"y":38.8},{"s":"m","x":1080,"y":39.0},{"s":"m","x":1090,"y":39.6},{"s":"m","x":1100,"y":40.2},
{"s":"u","x":200,"y":90.3},{"s":"u","x":210,"y":90.1},{"s":"u","x":220,"y":89.8},{"s":"u","x":230,"y":89.5},{"s":"u","x":240,"y":89.2},{"s":"u","x":250,"y":88.8},{"s":"u","x":260,"y":88.5},{"s":"u","x":270,"y":88.2},{"s":"u","x":280,"y":87.9},{"s":"u","x":290,"y":87.7},{"s":"u","x":300,"y":87.6},{"s":"u","x":310,"y":87.5},{"s":"u","x":320,"y":87.5},{"s":"u","x":330,"y":87.5},{"s":"u","x":340,"y":87.5},{"s":"u","x":350,"y":87.4},{"s":"u","x":360,"y":87.3},{"s":"u","x":370,"y":87.3},{"s":"u","x":380,"y":87.2},{"s":"u","x":390,"y":87.2},{"s":"u","x":400,"y":87.6},{"s":"u","x":410,"y":88.8},{"s":"u","x":420,"y":90.0},{"s":"u","x":430,"y":90.9},{"s":"u","x":440,"y":91.8},{"s":"u","x":450,"y":92.6},{"s":"u","x":460,"y":93.2},{"s":"u","x":470,"y":93.6},{"s":"u","x":480,"y":94.0},{"s":"u","x":490,"y":94.8},{"s":"u","x":500,"y":95.8},{"s":"u","x":510,"y":96.8},{"s":"u","x":520,"y":97.6},{"s":"u","x":530,"y":98.3},{"s":"u","x":540,"y":98.8},{"s":"u","x":550,"y":99.3},{"s":"u","x":560,"y":99.7},{"s":"u","x":570,"y":100.0},{"s":"u","x":580,"y":100.0},{"s":"u","x":590,"y":99.6},{"s":"u","x":600,"y":99.0},{"s":"u","x":610,"y":98.8},{"s":"u","x":620,"y":99.0},{"s":"u","x":630,"y":100.5},{"s":"u","x":640,"y":103.0},{"s":"u","x":650,"y":106.0},{"s":"u","x":660,"y":109.2},{"s":"u","x":670,"y":111.8},{"s":"u","x":680,"y":114.0},{"s":"u","x":690,"y":115.9},{"s":"u","x":700,"y":117.2},{"s":"u","x":710,"y":117.8},{"s":"u","x":720,"y":116.8},{"s":"u","x":730,"y":112.5},{"s":"u","x":740,"y":105.8},{"s":"u","x":750,"y":98.3},{"s":"u","x":760,"y":90.8},{"s":"u","x":770,"y":84.5},{"s":"u","x":780,"y":79.5},{"s":"u","x":790,"y":75.5},{"s":"u","x":800,"y":73.0},{"s":"u","x":810,"y":71.3},{"s":"u","x":820,"y":70.5},{"s":"u","x":830,"y":69.9},{"s":"u","x":840,"y":69.0},{"s":"u","x":850,"y":68.2},{"s":"u","x":860,"y":67.5},{"s":"u","x":870,"y":66.5},{"s":"u","x":880,"y":65.3},{"s":"u","x":890,"y":64.6},{"s":"u","x":900,"y":64.9},{"s":"u","x":910,"y":65.3},{"s":"u","x":920,"y":65.4},{"s":"u","x":930,"y":65.2},{"s":"u","x":940,"y":65.0},{"s":"u","x":950,"y":64.3},{"s":"u","x":960,"y":63.6},{"s":"u","x":970,"y":63.0},{"s":"u","x":980,"y":62.6},{"s":"u","x":990,"y":62.5},{"s":"u","x":1000,"y":62.5},{"s":"u","x":1010,"y":62.5},{"s":"u","x":1020,"y":62.5},{"s":"u","x":1030,"y":62.5},{"s":"u","x":1040,"y":62.4},{"s":"u","x":1050,"y":62.0},{"s":"u","x":1060,"y":61.4},{"s":"u","x":1070,"y":60.7},{"s":"u","x":1080,"y":60.4},{"s":"u","x":1090,"y":60.4},{"s":"u","x":1100,"y":60.4}
],
"peaks":[
{"x":460,"y":35.6,"y2":122.5,"t":"460?","ty":123.8,"kind":"uncertain"},
{"x":526,"y":40.5,"y2":127.5,"t":"525?","ty":127.8,"kind":"uncertain"},
{"x":572,"y":41.5,"y2":128.0,"t":"570","ty":129.6,"kind":"assigned"},
{"x":710,"y":46.0,"y2":132.5,"t":"710","ty":133.8,"kind":"assigned"},
{"x":935,"y":27.3,"y2":113.6,"t":"945","ty":115.3,"kind":"assigned"}
],
"note":[{"x":1114,"y":82.4,"t":"n"}]
},
"layer":[
{"data":{"name":"peaks"},"mark":{"type":"rule","color":"#9a9a9a","strokeWidth":1.5},
 "encoding":{"x":{"field":"x","type":"quantitative","scale":{"domain":[200,1100],"nice":false,"zero":false},"axis":null},
  "y":{"field":"y","type":"quantitative","scale":{"domain":[0,140],"nice":false},"axis":null},"y2":{"field":"y2"}}},
{"data":{"name":"raw"},"mark":{"type":"line","clip":true},
 "encoding":{"x":{"field":"x","type":"quantitative","axis":{"orient":"bottom","values":[200,250,300,350,400,450,500,550,600,650,700,750,800,850,900,950,1000,1050,1100],"format":"d","labelExpr":"datum.value % 100 === 0 ? datum.label : ''","tickSize":{"condition":{"test":"datum.value % 100 === 0","value":-10},"value":-5},"labelPadding":21,"labelFlush":false,"labelOverlap":false,"title":"RAMAN shift / cm⁻¹","titleX":449,"titleY":88,"titleAlign":"center","titleBaseline":"alphabetic"}},
  "y":{"field":"y","type":"quantitative","axis":{"orient":"left","values":[0,20,40,60,80,100,120,140],"tickSize":-10,"labelPadding":25,"labelFlush":false,"title":"Intensità","titleX":-92,"titleY":333,"titleAngle":-90,"titleAlign":"center","titleBaseline":"alphabetic"}},
  "color":{"field":"s","type":"nominal","scale":{"domain":["n","m","u"],"range":["#000000","#e40000","#0000e0"]},
   "legend":{"orient":"none","legendX":-2,"legendY":-166,"title":null,"direction":"vertical","strokeColor":"black","padding":27,"fillColor":"white","symbolType":"stroke","symbolSize":3600,"symbolStrokeWidth":2,"labelFont":"Liberation Sans","labelFontSize":29,"labelColor":"black","labelOffset":18,"clipHeight":31,"rowPadding":0,"labelLimit":0,
    "labelExpr":"datum.value === 'n' ? 'AISI 304 2B non trattato' : datum.value === 'm' ? 'AISI 304 2B marcato' : 'AISI 304 2B marcato dopo camera UV'"}},
  "strokeWidth":{"field":"s","type":"nominal","scale":{"domain":["n","m","u"],"range":[2,1.2,1.2]},"legend":null},
  "detail":{"field":"s"}}},
{"data":{"name":"fit"},"mark":{"type":"line","color":"black","strokeWidth":2.5,"interpolate":"monotone"},
 "encoding":{"x":{"field":"x","type":"quantitative","axis":{"orient":"top","values":[200,250,300,350,400,450,500,550,600,650,700,750,800,850,900,950,1000,1050,1100],"labels":false,"tickSize":{"condition":{"test":"datum.value % 100 === 0","value":-10},"value":-5},"title":null}},
  "y":{"field":"y","type":"quantitative","axis":{"orient":"right","values":[0,20,40,60,80,100,120,140],"labels":false,"tickSize":-10,"title":null}},
  "detail":{"field":"s"}}},
{"data":{"name":"peaks"},"transform":[{"filter":"datum.kind === 'uncertain'"}],"mark":{"type":"text","align":"left","baseline":"middle","dx":2,"font":"Liberation Sans","fontSize":15,"color":"black"},
 "encoding":{"x":{"field":"x","type":"quantitative","axis":null},"y":{"field":"ty","type":"quantitative","axis":null},"text":{"field":"t"}}},
{"data":{"name":"peaks"},"transform":[{"filter":"datum.kind === 'assigned'"}],"mark":{"type":"text","align":"left","baseline":"middle","dx":1,"font":"Liberation Sans","fontSize":21,"fontWeight":"bold","color":"black"},
 "encoding":{"x":{"field":"x","type":"quantitative","axis":null},"y":{"field":"ty","type":"quantitative","axis":null},"text":{"field":"t"}}},
{"data":{"name":"note"},"mark":{"type":"text","align":"left","baseline":"alphabetic","font":"Liberation Serif","fontSize":36,"fontWeight":"bold","color":"#c80000","clip":false},
 "encoding":{"x":{"field":"x","type":"quantitative","axis":null},"y":{"field":"y","type":"quantitative","axis":null},"text":{"field":"t"}}}
],
"resolve":{"axis":{"x":"independent","y":"independent"}}
}
